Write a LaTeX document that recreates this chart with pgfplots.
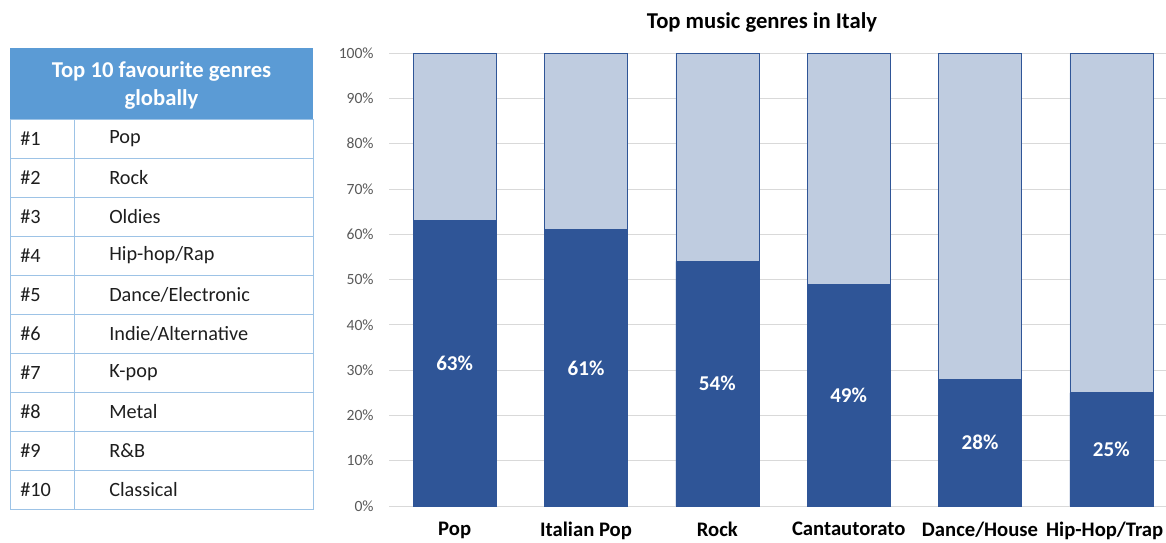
\documentclass[border=0pt]{standalone}
\usepackage{pgfplots}
\pgfplotsset{compat=1.18}
\usepackage{fontspec}
\setmainfont{Carlito}
\definecolor{darkbar}{RGB}{47,85,151}
\definecolor{lightbar}{RGB}{191,204,224}
\definecolor{hdr}{RGB}{91,155,213}
\definecolor{tline}{RGB}{157,195,230}
\definecolor{gridc}{RGB}{217,217,217}
\definecolor{ticktext}{RGB}{89,89,89}
\definecolor{bodytext}{RGB}{30,30,30}
\begin{document}
\begin{tikzpicture}
\useasboundingbox (0pt,0pt) rectangle (874.5pt,-406.5pt);
\begin{scope}[x=0.75pt,y=-0.75pt]
\fill[hdr] (10,48) rectangle (313,119);
\node[text=white,font=\bfseries\fontsize{17}{21}\selectfont,align=center] at (161.5,85) {Top 10 favourite genres\\globally};
\foreach \yy in {158,197,236,275,314,353,392,431,470} \draw[tline,line width=0.6pt] (10,\yy) -- (313,\yy);
\draw[tline,line width=0.6pt] (10,119) rectangle (313,509);
\draw[tline,line width=0.6pt] (74,119)--(74,509);
\foreach \g [count=\i] in {Pop,Rock,Oldies,Hip-hop/Rap,Dance/Electronic,Indie/Alternative,K-pop,Metal,R\&B,Classical} {
  \node[anchor=west,inner sep=0pt,text=bodytext,font=\fontsize{15.2}{18}\selectfont] at (20,{119+39*(\i-0.5)}) {\#\i};
  \node[anchor=west,inner sep=0pt,text=bodytext,font=\fontsize{15.2}{18}\selectfont] at (109,{119+39*(\i-0.5)}) {\g};
}
\node[font=\bfseries\fontsize{17}{20}\selectfont,text=black] at (762,22) {Top music genres in Italy};
\end{scope}
\begin{axis}[
  at={(291.75pt,-379.5pt)}, anchor=south west,
  scale only axis, width=591pt, height=339.75pt,
  xmin=-0.5, xmax=5.5, ymin=0, ymax=100,
  axis line style={draw=none},
  major tick length=0pt,
  ymajorgrids, grid style={gridc, line width=0.6pt},
  ytick={0,10,...,100},
  yticklabel={\pgfmathprintnumber{\tick}\%},
  yticklabel style={font=\fontsize{11.7}{14}\selectfont, text=ticktext, xshift=-8pt},
  /pgf/number format/assume math mode=true,
  xtick={0,1,2,3,4,5},
  xticklabels={Pop,Italian Pop,Rock,Cantautorato,Dance/House,{Hip-Hop/Trap\hspace*{10pt}}},
  xticklabel style={font=\bfseries\fontsize{15.5}{18}\selectfont, text=black, yshift=-8.5pt},
  bar width=62.25pt,
  clip=false,
]
\addplot[ybar, bar shift=0pt, fill=lightbar, draw=darkbar, line width=0.5pt] coordinates {(0,100) (1,100) (2,100) (3,100) (4,100) (5,100)};
\addplot[ybar, bar shift=0pt, fill=darkbar, draw=darkbar, line width=0.5pt,
  visualization depends on={y \as \rawy},
  nodes near coords={\pgfmathprintnumber{\pgfplotspointmeta}\%},
  every node near coord/.append style={anchor=center, text=white, font=\bfseries\fontsize{15.8}{18}\selectfont, yshift={-\rawy*1.69875pt}},
] coordinates {(0,63) (1,61) (2,54) (3,49) (4,28) (5,25)};
\end{axis}
\end{tikzpicture}
\end{document}
